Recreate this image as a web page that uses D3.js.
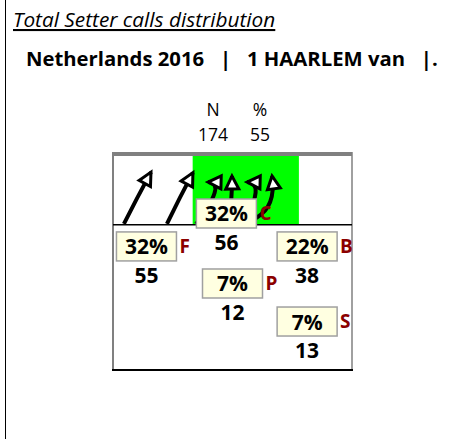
<!DOCTYPE html>
<html>
<head>
<meta charset="utf-8">
<script src="https://cdn.jsdelivr.net/npm/d3@7"></script>
<style>
  html, body { margin: 0; padding: 0; background: #fff; }
  svg { display: block; font-family: "Open Sans", "Noto Sans", sans-serif; }
</style>
</head>
<body>
<svg id="chart" width="452" height="439"></svg>
<script>
// Setter call distribution per zone
const zones = ["F", "C", "B", "P", "S"];
const counts = [55, 56, 38, 12, 13];
const headerLabels = ["N", "%"];
const headerValues = [174, 55];
const titleText = "Total Setter calls distribution";
const subtitleText = "Netherlands 2016   |   1 HAARLEM van   |.";

// Court layout in metres (half court 9 x 9)
const zoneAnchors = { F: [1.26, 3.30], C: [4.27, 1.94], B: [7.31, 3.30], P: [4.50, 4.83], S: [7.31, 6.40] };
const attackLine = 3;
const highlightX = [3, 7];
// Call arrows: start, control, end (metres)
const arrows = [
  [[0.41, 2.97], [0.90, 1.90], [1.43, 0.83]],
  [[2.03, 2.97], [2.50, 1.90], [3.01, 0.85]],
  [[3.13, 2.97], [4.30, 1.26], [3.58, 1.24]],
  [[4.33, 2.97], [4.50, 2.00], [4.48, 0.99]],
  [[4.93, 2.97], [5.75, 1.26], [5.05, 1.24]],
  [[5.39, 2.72], [6.15, 2.25], [5.99, 0.99]]
];

const svg = d3.select("#chart");
const total = d3.sum(counts);

// outer frame edge
svg.append("line").attr("x1", 5.5).attr("x2", 5.5).attr("y1", 0).attr("y2", 439)
  .attr("stroke", "#000").attr("stroke-width", 1);

svg.append("text").attr("x", 13).attr("y", 27)
  .attr("font-size", 20.8).attr("font-style", "italic")
  .attr("text-decoration", "underline")
  .text(titleText);

svg.append("text").attr("x", 26).attr("y", 66)
  .attr("font-size", 20.3).attr("font-weight", "bold")
  .style("white-space", "pre")
  .text(subtitleText);

const hx = d3.scalePoint().domain(headerLabels).range([213, 260]);
headerLabels.forEach((h, i) => {
  svg.append("text").attr("x", hx(h)).attr("y", 116).attr("text-anchor", "middle")
    .attr("font-size", 17.5).text(h);
  svg.append("text").attr("x", hx(h)).attr("y", 141).attr("text-anchor", "middle")
    .attr("font-size", 17.5).text(headerValues[i]);
});

const x = d3.scaleLinear().domain([0, 9]).range([113, 352]);
const y = d3.scaleLinear().domain([0, 9]).range([152, 370]);

// highlighted front area
svg.append("rect")
  .attr("x", x(highlightX[0])).attr("y", y(0))
  .attr("width", x(highlightX[1]) - x(highlightX[0])).attr("height", y(attackLine) - y(0))
  .attr("fill", "#00ff00");

// court borders
svg.append("line").attr("x1", x(0)).attr("x2", x(9)).attr("y1", y(0) + 2).attr("y2", y(0) + 2)
  .attr("stroke", "#808080").attr("stroke-width", 4);
svg.append("line").attr("x1", x(0)).attr("x2", x(0)).attr("y1", y(0)).attr("y2", y(9))
  .attr("stroke", "#808080").attr("stroke-width", 2);
svg.append("line").attr("x1", x(9)).attr("x2", x(9)).attr("y1", y(0)).attr("y2", y(9))
  .attr("stroke", "#808080").attr("stroke-width", 1.5);
svg.append("line").attr("x1", x(0) - 1).attr("x2", x(9) + 1).attr("y1", y(9)).attr("y2", y(9))
  .attr("stroke", "#000").attr("stroke-width", 2);
svg.append("line").attr("x1", x(0)).attr("x2", x(9)).attr("y1", y(attackLine)).attr("y2", y(attackLine))
  .attr("stroke", "#000").attr("stroke-width", 1.5);

// arrow head marker
svg.append("defs").append("marker")
  .attr("id", "head").attr("viewBox", "-3 -10 22 20")
  .attr("refX", 13).attr("refY", 0)
  .attr("markerWidth", 22).attr("markerHeight", 20)
  .attr("markerUnits", "userSpaceOnUse").attr("orient", "auto")
  .append("path").attr("d", "M0,-6.5L13,0L0,6.5Z")
  .attr("fill", "#fff").attr("stroke", "#000").attr("stroke-width", 3)
  .attr("stroke-linejoin", "miter");

arrows.forEach(a => {
  const p = d3.path();
  p.moveTo(x(a[0][0]), y(a[0][1]));
  p.quadraticCurveTo(x(a[1][0]), y(a[1][1]), x(a[2][0]), y(a[2][1]));
  svg.append("path").attr("d", p.toString())
    .attr("fill", "none").attr("stroke", "#000").attr("stroke-width", 4)
    .attr("marker-end", "url(#head)");
});

// zone labels
const boxW = 60, boxH = 29;
zones.forEach((z, i) => {
  const [mx, my] = zoneAnchors[z];
  const cx = x(mx), top = y(my);
  const g = svg.append("g");
  g.append("rect").attr("x", cx - boxW / 2).attr("y", top).attr("width", boxW).attr("height", boxH)
    .attr("fill", "#ffffe1").attr("stroke", "#a0a0a0").attr("stroke-width", 1.5);
  g.append("text").attr("x", cx).attr("y", top + 22.5).attr("text-anchor", "middle")
    .attr("font-size", 21).attr("font-weight", "bold")
    .text(Math.round(counts[i] / total * 100) + "%");
  g.append("text").attr("x", cx + boxW / 2 + 3).attr("y", top + boxH - 8)
    .attr("font-size", 19).attr("font-weight", "bold").attr("fill", "#8b0000")
    .text(z);
  g.append("text").attr("x", cx).attr("y", top + boxH + 22).attr("text-anchor", "middle")
    .attr("font-size", 21).attr("font-weight", "bold")
    .text(counts[i]);
});
</script>
</body>
</html>
